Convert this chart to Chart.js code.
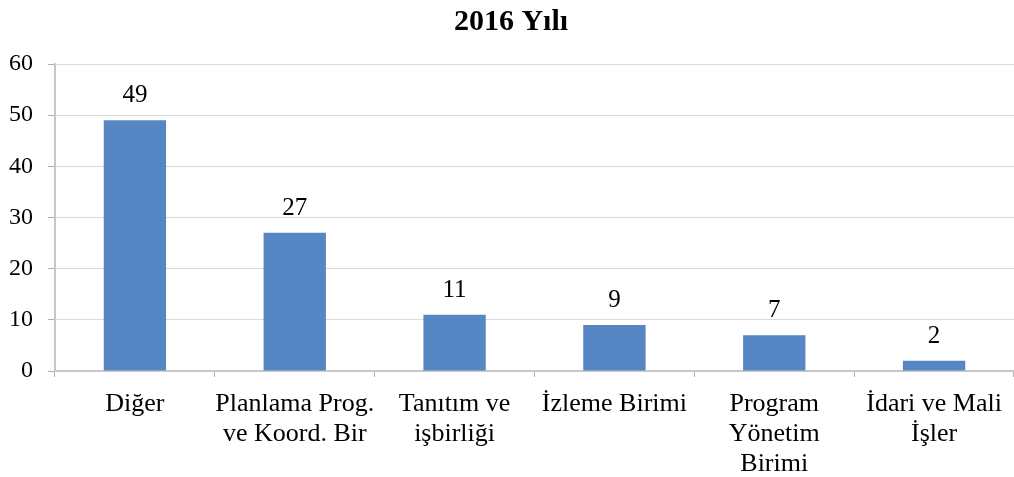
<!DOCTYPE html>
<html>
<head>
<meta charset="utf-8">
<script src="https://cdn.jsdelivr.net/npm/chart.js@4/dist/chart.umd.min.js"></script>
<style>
  html, body { margin: 0; padding: 0; background: #fff; }
  #wrap { width: 1014px; height: 477px; }
</style>
</head>
<body>
<div id="wrap"><canvas id="chart"></canvas></div>
<script>
const categories = [
  ["Diğer"],
  ["Planlama Prog.", "ve Koord. Bir"],
  ["Tanıtım ve", "işbirliği"],
  ["İzleme Birimi"],
  ["Program", "Yönetim", "Birimi"],
  ["İdari ve Mali", "İşler"],
];
const values = [49, 27, 11, 9, 7, 2];
const yTicks = [0, 10, 20, 30, 40, 50, 60];

const serif = "'Liberation Serif', 'Times New Roman', serif";

// value labels above each bar
const valueLabels = {
  id: "valueLabels",
  afterDatasetsDraw(chart) {
    const ctx = chart.ctx;
    const meta = chart.getDatasetMeta(0);
    ctx.save();
    ctx.font = "25px " + serif;
    ctx.fillStyle = "#000";
    ctx.textAlign = "center";
    ctx.textBaseline = "bottom";
    meta.data.forEach((bar, i) => {
      ctx.fillText(String(values[i]), bar.x, bar.y - 12);
    });
    ctx.restore();
  },
};

new Chart(document.getElementById("chart"), {
  type: "bar",
  data: {
    labels: categories,
    datasets: [
      {
        data: values,
        backgroundColor: "#5687C4",
        barPercentage: 0.78,
        categoryPercentage: 0.5,
      },
    ],
  },
  plugins: [valueLabels],
  options: {
    responsive: true,
    maintainAspectRatio: false,
    animation: false,
    layout: { padding: { left: 8, right: 0, top: 4, bottom: 0 } },
    plugins: {
      legend: { display: false },
      tooltip: { enabled: false },
      title: {
        display: true,
        text: "2016 Yılı",
        color: "#000",
        font: { family: serif, size: 30, weight: "bold" },
        padding: { top: 0, bottom: 24 },
      },
    },
    scales: {
      x: {
        afterFit: (axis) => {
          axis.height = 106;
        },
        grid: {
          offset: true,
          drawOnChartArea: false,
          drawTicks: true,
          tickLength: 6,
          color: "#b0b0b0",
        },
        border: { color: "#c8c8c8", width: 2 },
        ticks: {
          color: "#000",
          font: { family: serif, size: 26, lineHeight: "30px" },
          padding: 12,
          maxRotation: 0,
          autoSkip: false,
        },
      },
      y: {
        min: 0,
        max: 60,
        afterBuildTicks: (axis) => {
          axis.ticks = yTicks.map((v) => ({ value: v }));
        },
        afterFit: (axis) => {
          axis.width = 47;
        },
        grid: {
          color: "#dadada",
          tickLength: 7,
          tickColor: "#b0b0b0",
        },
        border: { color: "#c8c8c8", width: 2 },
        ticks: {
          color: "#000",
          font: { family: serif, size: 24 },
          padding: 15,
        },
      },
    },
  },
});
</script>
</body>
</html>
